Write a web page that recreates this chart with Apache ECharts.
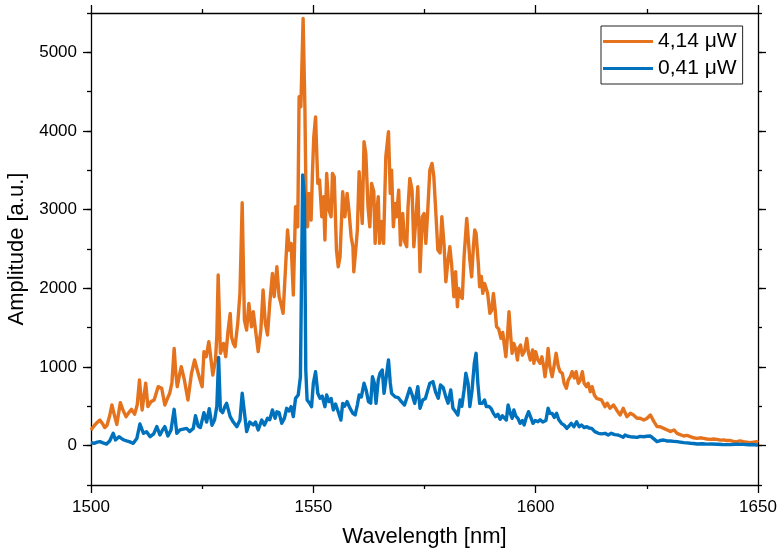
<!DOCTYPE html>
<html>
<head>
<meta charset="utf-8">
<script src="https://cdn.jsdelivr.net/npm/echarts@6/dist/echarts.min.js"></script>
<style>
html,body{margin:0;padding:0;background:#fff;}
#chart{width:780px;height:557px;}
</style>
</head>
<body>
<div id="chart"></div>
<script>
// ---- data ----
const seriesNames = ['4,14 μW', '0,41 μW'];
const xTicks = [1500, 1550, 1600, 1650];
const yTickLabels = [0, 1000, 2000, 3000, 4000, 5000];

const orange = [
[1500,200],[1500.8,260],[1501.5,300],[1502,326],[1502.6,280],[1503.1,230],[1503.6,260],[1504.2,380],[1504.7,517],[1505.2,400],[1505.8,270],[1506.6,547],[1507.2,450],[1507.9,369],[1508.5,420],[1509.1,462],[1509.8,400],[1510.4,520],[1510.9,835],[1511.5,454],[1512.3,793],[1512.8,496],[1513.5,560],[1514.2,580],[1515.1,750],[1515.9,730],[1516.6,517],[1517.2,600],[1517.7,666],[1518.2,800],[1518.7,1237],[1519.1,900],[1519.4,750],[1519.9,900],[1520.3,1004],[1521,835],[1521.8,580],[1522.6,920],[1523.3,1089],[1524.1,920],[1524.6,820],[1525,750],[1525.4,1195],[1525.9,1130],[1526.5,1322],[1527,1089],[1527.4,898],[1528,1089],[1528.3,1400],[1528.6,2169],[1528.9,1600],[1529.1,1174],[1529.8,1300],[1530.1,1301],[1530.3,1131],[1530.8,1450],[1531.3,1682],[1531.6,1385],[1532,1300],[1532.4,1258],[1533,1555],[1533.5,1936],[1534,3088],[1534.5,1597],[1535,1470],[1535.5,1809],[1536.1,1512],[1536.5,1703],[1537,1470],[1537.6,1195],[1538.2,1470],[1538.7,1978],[1539.2,1555],[1539.7,1407],[1540.2,1809],[1540.8,2190],[1541.2,1894],[1541.8,2274],[1542.3,1894],[1542.7,1809],[1543.2,1682],[1543.8,2318],[1544.2,2741],[1544.6,2487],[1545,2571],[1545.5,1915],[1546,3037],[1546.5,2783],[1546.8,4435],[1547.2,4308],[1547.7,5431],[1548.1,4308],[1548.4,2910],[1548.7,2783],[1549,3206],[1549.5,2868],[1549.8,3461],[1550.1,3926],[1550.5,4180],[1551,3334],[1551.4,3376],[1551.9,2910],[1552.3,3164],[1552.6,2614],[1553,3461],[1553.5,2995],[1554,2910],[1554.3,3461],[1554.7,3418],[1555.2,2487],[1555.6,2274],[1556,2400],[1556.6,3228],[1557.1,2910],[1557.6,3207],[1558,2995],[1558.5,2656],[1558.9,2529],[1559.1,2211],[1559.6,2529],[1559.9,2741],[1560.3,3482],[1560.7,3461],[1561,2826],[1561.4,3863],[1561.8,3715],[1562.3,3037],[1562.7,2783],[1563.1,3334],[1563.6,3228],[1563.9,2572],[1564.2,2910],[1564.6,3164],[1564.9,2572],[1565.4,2850],[1565.8,2572],[1566.3,3672],[1566.9,3990],[1567.3,3207],[1567.6,3503],[1568,2783],[1568.4,3080],[1568.7,2910],[1569.2,3249],[1569.6,2551],[1570.1,2953],[1570.5,2600],[1571,2529],[1571.3,3037],[1571.7,3397],[1572.2,3249],[1572.6,2529],[1573.1,2910],[1573.5,3292],[1574,2211],[1574.5,2910],[1574.9,2950],[1575.3,2572],[1575.7,2953],[1576.2,3503],[1576.7,3588],[1577.1,3418],[1577.6,2910],[1578,2487],[1578.5,2450],[1578.9,2910],[1579.4,2550],[1579.8,2084],[1580.3,2360],[1580.7,2529],[1581.1,2300],[1581.6,1893],[1582,2211],[1582.4,1766],[1582.7,2000],[1583.1,1900],[1583.5,1872],[1583.9,2400],[1584.5,2889],[1584.8,2889],[1585.2,2360],[1585.6,2147],[1586,2529],[1586.3,2741],[1586.6,2700],[1587.1,2317],[1587.4,2021],[1587.8,2150],[1588.1,1936],[1588.5,2063],[1588.9,2080],[1589.2,1936],[1589.7,1682],[1590.1,1720],[1590.5,1936],[1590.9,1724],[1591.2,1512],[1591.7,1480],[1592.2,1364],[1592.6,1440],[1592.9,1300],[1593.3,1131],[1593.7,1427],[1594,1703],[1594.4,1385],[1594.7,1174],[1595.1,1300],[1595.5,1230],[1595.9,1089],[1596.2,1240],[1596.6,1280],[1597,1150],[1597.5,1200],[1598,1364],[1598.4,1174],[1598.8,1089],[1599.3,1216],[1599.6,1047],[1600,1195],[1600.5,1089],[1601,1047],[1601.4,1130],[1601.8,1005],[1602.1,877],[1602.5,1050],[1602.8,1237],[1603.2,1005],[1603.7,877],[1604.1,1000],[1604.6,1174],[1605.1,1005],[1605.5,941],[1606,920],[1606.4,793],[1606.9,729],[1607.3,830],[1607.8,877],[1608.2,941],[1608.7,860],[1609.1,941],[1609.6,793],[1610,830],[1610.5,941],[1610.9,793],[1611.4,750],[1611.8,793],[1612.3,686],[1612.7,750],[1613.2,644],[1613.7,602],[1614.1,581],[1614.8,581],[1615.6,496],[1616.1,540],[1616.7,475],[1617.5,517],[1618.2,454],[1619,390],[1619.7,475],[1620.5,369],[1621.3,411],[1622,390],[1622.8,348],[1623.5,350],[1624.3,326],[1625,345],[1625.8,390],[1626.6,305],[1627.3,242],[1628,240],[1628.8,220],[1629.6,200],[1630.3,180],[1631.1,200],[1631.8,157],[1632.5,140],[1633.3,123],[1634,130],[1634.8,114],[1635.5,100],[1636.3,93],[1637,100],[1637.8,93],[1638.5,85],[1639.3,80],[1640,85],[1640.8,80],[1641.5,70],[1642.3,72],[1643,65],[1643.8,65],[1644.5,55],[1645.2,51],[1646,60],[1646.7,51],[1647.5,45],[1648.2,38],[1649,45],[1649.7,51],[1650,40]
];

const blue = [
[1500,40],[1500.7,30],[1501.4,45],[1502,51],[1502.7,35],[1503.5,21],[1504.2,60],[1505,157],[1505.5,72],[1506.3,114],[1506.9,90],[1507.4,72],[1508,60],[1508.6,51],[1509.5,30],[1510.3,90],[1511,275],[1511.8,157],[1512.5,178],[1513.3,114],[1514.1,150],[1514.8,242],[1515.5,136],[1516.1,200],[1516.6,242],[1517.3,123],[1518,200],[1518.7,462],[1519.3,157],[1520,200],[1520.4,180],[1521.5,220],[1522.2,180],[1523,220],[1523.5,380],[1524.1,250],[1524.6,230],[1525.4,420],[1526,300],[1526.6,470],[1527.2,260],[1527.8,330],[1528.3,500],[1528.7,1120],[1529.1,450],[1529.6,420],[1530.1,496],[1530.5,538],[1531.3,369],[1532,300],[1532.8,241],[1533.5,326],[1534,666],[1534.7,326],[1535,178],[1535.7,300],[1536.5,263],[1537,300],[1537.6,200],[1538.4,326],[1539,263],[1539.7,348],[1540.2,330],[1540.8,454],[1541.4,348],[1541.8,430],[1542.3,420],[1542.9,284],[1543.5,350],[1544,475],[1544.5,440],[1545,496],[1545.5,369],[1546,602],[1546.6,644],[1547.1,877],[1547.6,3440],[1548,3164],[1548.3,962],[1548.6,581],[1549.2,538],[1549.6,496],[1550,792],[1550.5,940],[1551,666],[1551.5,602],[1552,630],[1552.6,496],[1553,644],[1553.5,560],[1554,600],[1554.5,454],[1555,530],[1555.6,432],[1556.2,326],[1556.6,538],[1557,500],[1557.6,560],[1558.2,480],[1558.9,411],[1559.4,390],[1559.9,517],[1560.3,644],[1560.8,620],[1561.4,793],[1561.9,700],[1562.4,560],[1562.9,540],[1563.3,877],[1563.7,800],[1564.1,538],[1564.6,835],[1565,920],[1565.5,962],[1565.9,665],[1566.3,830],[1566.9,1089],[1567.3,800],[1567.6,665],[1568,640],[1568.4,620],[1569.1,610],[1569.8,560],[1570.5,517],[1571.1,620],[1571.7,729],[1572.2,650],[1572.8,538],[1573.5,750],[1574,475],[1574.6,580],[1575.2,600],[1575.7,700],[1576.2,793],[1576.9,814],[1577.5,680],[1578.1,602],[1578.6,771],[1579.2,740],[1579.8,620],[1580.3,540],[1580.9,708],[1581.4,475],[1582,432],[1582.5,390],[1583,580],[1583.4,500],[1583.9,708],[1584.3,920],[1584.8,793],[1585.2,496],[1585.7,708],[1586.2,1047],[1586.6,1174],[1587,793],[1587.4,538],[1588,540],[1588.5,581],[1588.9,496],[1589.5,500],[1590,470],[1590.5,411],[1591,369],[1591.5,400],[1592,335],[1592.5,380],[1592.9,369],[1593.4,326],[1593.8,517],[1594.3,411],[1594.7,348],[1595.1,454],[1595.5,380],[1596,348],[1596.5,284],[1597,320],[1597.4,263],[1597.9,360],[1598.4,432],[1598.9,360],[1599.4,284],[1599.9,320],[1600.5,305],[1601,330],[1601.6,300],[1602.3,320],[1602.8,475],[1603.2,411],[1603.7,411],[1604.2,360],[1604.7,411],[1605.2,330],[1605.8,284],[1606.4,260],[1607,220],[1607.5,250],[1608,284],[1608.6,240],[1609.2,305],[1609.8,240],[1610.3,263],[1610.9,230],[1611.5,242],[1612,225],[1612.6,220],[1613.3,178],[1614.1,157],[1614.8,150],[1615.6,157],[1616.3,136],[1617,157],[1617.8,140],[1618.5,136],[1619.2,120],[1619.7,106],[1620.1,136],[1620.7,120],[1621.3,114],[1622,110],[1622.8,106],[1623.5,118],[1624.3,114],[1625,120],[1625.8,123],[1626.5,90],[1627.3,51],[1628,65],[1628.8,72],[1629.5,60],[1630.3,59],[1631,55],[1631.8,51],[1632.5,45],[1633.3,38],[1634,35],[1634.8,30],[1635.5,28],[1636.3,21],[1637.5,25],[1638.5,20],[1639.5,22],[1640.8,18],[1642,15],[1643.8,13],[1645,18],[1646.7,17],[1648,12],[1649,14],[1649.7,9],[1650,10]
];

// ---- chart ----
const FONT = '"Liberation Sans", Arial, sans-serif';
const AX = { color: '#000', width: 1.3 };
const plain = v => String(v);
const chart = echarts.init(document.getElementById('chart'), null, { renderer: 'canvas' });

function xAxisBase(pos, showLabel) {
  return {
    type: 'value', min: xTicks[0], max: xTicks[xTicks.length - 1], interval: 50,
    position: pos, gridIndex: 0,
    axisLine: { show: true, onZero: false, lineStyle: AX },
    axisTick: { show: true, inside: false, length: 8, lineStyle: AX },
    minorTick: { show: true, splitNumber: 2, length: 4, lineStyle: AX },
    splitLine: { show: false }, minorSplitLine: { show: false },
    axisLabel: { show: showLabel, formatter: plain, fontSize: 17, color: '#000', fontFamily: FONT, margin: 14 }
  };
}
function yAxisMajor(pos, showLabel) {
  return {
    type: 'value', min: -500, max: 5500, position: pos, gridIndex: 0,
    axisLine: { show: true, onZero: false, lineStyle: AX },
    axisTick: { show: true, inside: false, length: 8, lineStyle: AX, customValues: yTickLabels },
    splitLine: { show: false },
    axisLabel: { show: showLabel, customValues: yTickLabels, formatter: plain, fontSize: 17, color: '#000', fontFamily: FONT, margin: 14 }
  };
}
function yAxisMinor(pos) {
  return {
    type: 'value', min: -500, max: 5500, interval: 500, position: pos, gridIndex: 0,
    axisLine: { show: false, onZero: false },
    axisTick: { show: true, inside: false, length: 4, lineStyle: AX },
    splitLine: { show: false },
    axisLabel: { show: false }
  };
}

const xMain = xAxisBase('bottom', true);
xMain.name = 'Wavelength [nm]';
xMain.nameLocation = 'middle';
xMain.nameGap = 41;
xMain.nameTextStyle = { fontSize: 22, color: '#000', fontFamily: FONT };

const yMain = yAxisMajor('left', true);
yMain.name = 'Amplitude [a.u.]';
yMain.nameLocation = 'middle';
yMain.nameGap = 54;
yMain.nameTextStyle = { fontSize: 22, color: '#000', fontFamily: FONT };

chart.setOption({
  animation: false,
  backgroundColor: '#fff',
  grid: { left: 91, right: 22, top: 13, bottom: 72, containLabel: false, outerBoundsMode: 'none' },
  legend: {
    data: seriesNames.map(n => ({ name: n, icon: 'rect' })),
    orient: 'vertical',
    left: 601, top: 26,
    padding: [5, 6, 5, 2],
    itemGap: 6,
    itemWidth: 50, itemHeight: 3,
    borderColor: '#222', borderWidth: 1, borderRadius: 0,
    backgroundColor: '#fff',
    textStyle: { fontSize: 21, color: '#000', fontFamily: FONT, lineHeight: 21 }
  },
  xAxis: [xMain, xAxisBase('top', false)],
  yAxis: [yMain, yAxisMinor('left'), yAxisMajor('right', false), yAxisMinor('right')],
  series: [
    { name: seriesNames[0], type: 'line', data: orange, xAxisIndex: 0, yAxisIndex: 0,
      symbol: 'none', color: '#E5731E', lineStyle: { width: 3.4, color: '#E5731E', join: 'round' }, z: 2 },
    { name: seriesNames[1], type: 'line', data: blue, xAxisIndex: 0, yAxisIndex: 0,
      symbol: 'none', color: '#0072BD', lineStyle: { width: 3.4, color: '#0072BD', join: 'round' }, z: 3 }
  ]
});
</script>
</body>
</html>
